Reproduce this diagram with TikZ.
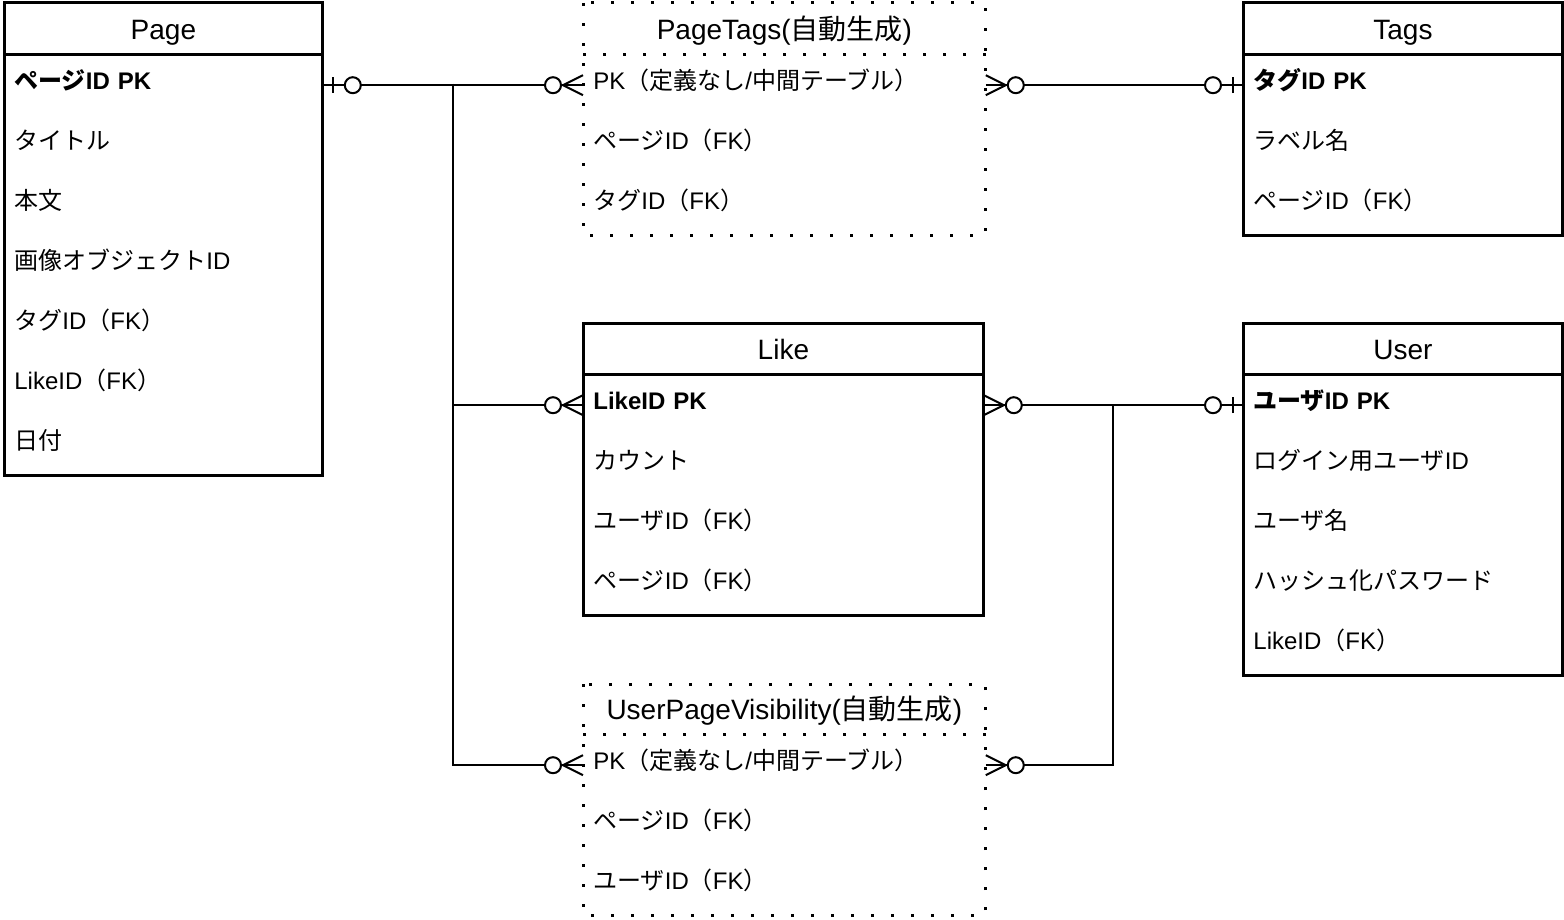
\documentclass[tikz,border=0pt]{standalone}
\usepackage{fontspec}
\setmainfont{Liberation Sans}
\newfontfamily\jp{Noto Sans CJK JP}
\newcommand\ja[1]{{\jp #1}}
\usetikzlibrary{positioning}

\begin{document}
\begin{tikzpicture}[x=0.5pt, y=-0.5pt,
   header/.style={rectangle, inner sep=0pt, anchor=north west,
      minimum height=25.5pt, text height=11pt, text depth=0.6pt,
      font=\fontsize{14}{16}\selectfont},
   row/.style={rectangle, text width=#1, inner xsep=5pt, inner ysep=0pt,
      minimum height=30pt, align=left, anchor=north,
      text height=9pt, text depth=4.4pt,
      font=\fontsize{12}{14}\selectfont},
   solidbox/.style={draw, line width=1.5pt},
   dotbox/.style={draw, line width=1.5pt, dash pattern=on 1.5pt off 8.5pt},
   link/.style={draw, line width=1pt},
   zeromany/.pic={
      \draw [line width=1pt] (0,-10) -- (20,0) -- (0,10);
      \draw [line width=1pt, fill=white] (30,0) circle [radius=8];},
   zeroone/.pic={
      \draw [line width=1pt] (10,-8) -- (10,8);
      \draw [line width=1pt, fill=white] (30,0) circle [radius=8];}]
   \useasboundingbox (0,0) rectangle (1564,920);

   % Page
   \node (page) [header, minimum width=159pt] at (4,3) {Page};
   \foreach \t [count=\i] in {{\bfseries\ja{ページ}ID PK}, \ja{タイトル}, \ja{本文},
      \ja{画像オブジェクト}ID, \ja{タグ}ID\ja{（}FK\ja{）}, LikeID\ja{（}FK\ja{）}, \ja{日付}}
      \node (page-\i) [row=149pt] at ([yshift=-(\i-1)*30pt]page.south) {\t};
   \draw [solidbox] (page.north west) rectangle (page-7.south east);
   \draw [solidbox] (page.south west) -- (page.south east);

   % PageTags
   \node (pagetags) [header, minimum width=201pt] at (583,3) {PageTags(\ja{自動生成})};
   \foreach \t [count=\i] in {PK\ja{（定義なし}/\ja{中間テーブル）},
      \ja{ページ}ID\ja{（}FK\ja{）}, \ja{タグ}ID\ja{（}FK\ja{）}}
      \node (pagetags-\i) [row=191pt] at ([yshift=-(\i-1)*30pt]pagetags.south) {\t};
   \draw [dotbox] (pagetags.north west) rectangle (pagetags-3.south east);
   \draw [dotbox] (pagetags.south west) -- (pagetags.south east);

   % Tags
   \node (tags) [header, minimum width=159.5pt] at (1243,3) {Tags};
   \foreach \t [count=\i] in {{\bfseries\ja{タグ}ID PK}, \ja{ラベル名},
      \ja{ページ}ID\ja{（}FK\ja{）}}
      \node (tags-\i) [row=149.5pt] at ([yshift=-(\i-1)*30pt]tags.south) {\t};
   \draw [solidbox] (tags.north west) rectangle (tags-3.south east);
   \draw [solidbox] (tags.south west) -- (tags.south east);

   % Like
   \node (like) [header, minimum width=200pt] at (583,323) {Like};
   \foreach \t [count=\i] in {{\bfseries LikeID PK}, \ja{カウント},
      \ja{ユーザ}ID\ja{（}FK\ja{）}, \ja{ページ}ID\ja{（}FK\ja{）}}
      \node (like-\i) [row=190pt] at ([yshift=-(\i-1)*30pt]like.south) {\t};
   \draw [solidbox] (like.north west) rectangle (like-4.south east);
   \draw [solidbox] (like.south west) -- (like.south east);

   % User
   \node (user) [header, minimum width=159.5pt] at (1243,323) {User};
   \foreach \t [count=\i] in {{\bfseries\ja{ユーザ}ID PK}, \ja{ログイン用ユーザ}ID,
      \ja{ユーザ名}, \ja{ハッシュ化パスワード}, LikeID\ja{（}FK\ja{）}}
      \node (user-\i) [row=149.5pt] at ([yshift=-(\i-1)*30pt]user.south) {\t};
   \draw [solidbox] (user.north west) rectangle (user-5.south east);
   \draw [solidbox] (user.south west) -- (user.south east);

   % UserPageVisibility
   \node (upv) [header, minimum width=201pt, minimum height=25pt] at (583,684)
      {UserPageVisibility(\ja{自動生成})};
   \foreach \t [count=\i] in {PK\ja{（定義なし}/\ja{中間テーブル）},
      \ja{ページ}ID\ja{（}FK\ja{）}, \ja{ユーザ}ID\ja{（}FK\ja{）}}
      \node (upv-\i) [row=191pt] at ([yshift=-(\i-1)*30pt]upv.south) {\t};
   \draw [dotbox] (upv.north west) rectangle (upv-3.south east);
   \draw [dotbox] (upv.south west) -- (upv.south east);

   % relations
   \coordinate (pagebus) at (453,84);
   \coordinate (userbus) at (1113,404);
   \draw [link] (page-1.east) -- (pagetags-1.west);
   \draw [link] (pagebus) |- (like-1.west);
   \draw [link] (pagebus) |- (upv-1.west);
   \draw [link] (pagetags-1.east) -- (tags-1.west);
   \draw [link] (like-1.east) -- (user-1.west);
   \draw [link] (upv-1.east) -| (userbus);

   \pic at (page-1.east) {zeroone};
   \pic [rotate=180] at (pagetags-1.west) {zeromany};
   \pic [rotate=180] at (like-1.west) {zeromany};
   \pic [rotate=180] at (upv-1.west) {zeromany};
   \pic at (pagetags-1.east) {zeromany};
   \pic [rotate=180] at (tags-1.west) {zeroone};
   \pic at (like-1.east) {zeromany};
   \pic [rotate=180] at (user-1.west) {zeroone};
   \pic at (upv-1.east) {zeromany};
\end{tikzpicture}
\end{document}
